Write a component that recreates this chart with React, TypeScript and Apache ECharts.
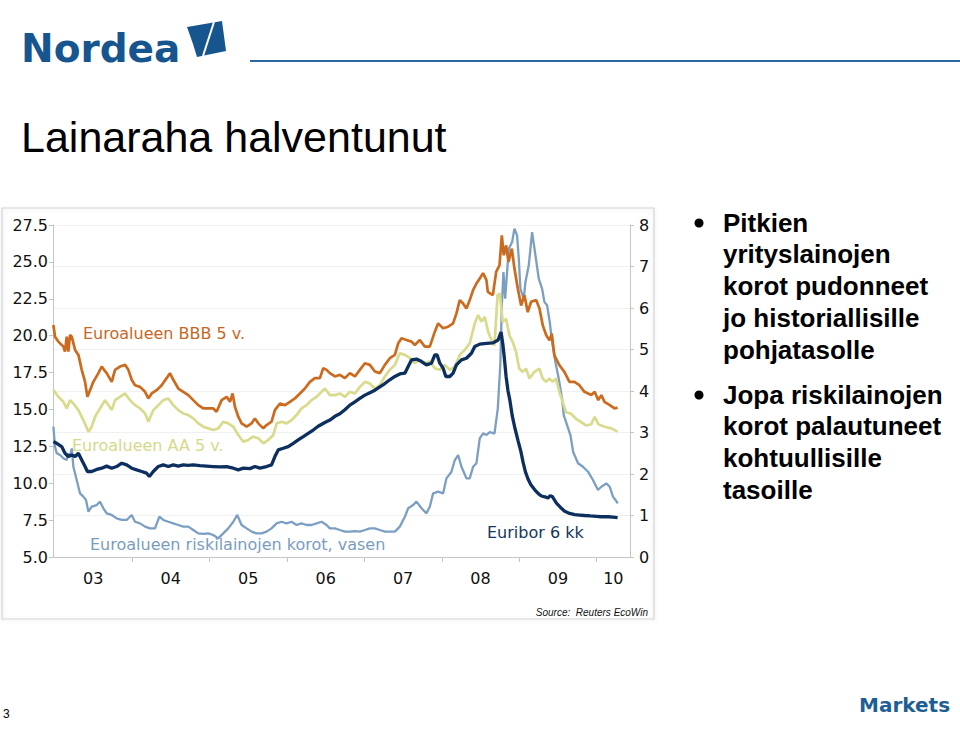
import React, { useEffect, useRef } from "react";
import * as echarts from "echarts";

// ---- data (decimal year, value) ----
const yearStarts = [2003, 2004, 2005, 2006, 2007, 2008, 2009, 2010];
const yearLabels = ["03", "04", "05", "06", "07", "08", "09", "10"];
const xMin = 2002.98;
const xMax = 2010.43;

// Euroalueen riskilainojen korot (left axis)
const highYield: number[][] = [
  [2002.985,13.83],[2003.006,12.48],[2003.028,12.03],[2003.071,11.91],[2003.114,11.69],[2003.157,11.57],[2003.178,12.03],[2003.2,11.8],[2003.222,12.36],[2003.243,11.12],[2003.286,10.22],[2003.329,9.31],[2003.372,9.09],[2003.406,8.86],[2003.437,8.07],[2003.48,8.41],[2003.544,8.52],[2003.587,8.75],[2003.63,8.3],[2003.673,7.96],[2003.738,7.85],[2003.802,7.62],[2003.867,7.51],[2003.931,7.51],[2003.996,7.85],[2004.039,7.39],[2004.103,7.28],[2004.168,7.06],[2004.232,6.94],[2004.297,6.94],[2004.353,7.73],[2004.404,7.51],[2004.469,7.39],[2004.533,7.28],[2004.598,7.17],[2004.662,7.06],[2004.727,7.06],[2004.791,6.83],[2004.856,6.6],[2004.92,6.56],[2004.985,6.6],[2005.049,6.49],[2005.114,6.26],[2005.178,6.6],[2005.243,6.94],[2005.308,7.39],[2005.359,7.85],[2005.415,7.17],[2005.48,6.94],[2005.544,6.72],[2005.609,6.6],[2005.673,6.6],[2005.737,6.72],[2005.802,6.94],[2005.867,7.28],[2005.931,7.39],[2005.996,7.28],[2006.06,7.39],[2006.125,7.17],[2006.189,7.28],[2006.254,7.17],[2006.318,7.17],[2006.383,7.28],[2006.447,7.39],[2006.512,7.17],[2006.555,6.94],[2006.62,6.94],[2006.684,6.83],[2006.749,6.72],[2006.813,6.72],[2006.878,6.75],[2006.942,6.72],[2007.007,6.83],[2007.071,6.94],[2007.136,6.94],[2007.2,6.83],[2007.265,6.72],[2007.329,6.72],[2007.394,6.72],[2007.458,7.06],[2007.523,7.73],[2007.566,8.3],[2007.63,8.52],[2007.673,8.75],[2007.738,8.3],[2007.802,7.96],[2007.845,8.41],[2007.888,9.31],[2007.953,9.43],[2008.017,9.31],[2008.06,10.33],[2008.125,10.78],[2008.168,11.57],[2008.211,11.91],[2008.254,11.12],[2008.318,10.33],[2008.361,10.33],[2008.404,11.12],[2008.447,11.35],[2008.49,13.04],[2008.533,13.38],[2008.576,13.27],[2008.62,13.47],[2008.68,13.36],[2008.723,15.05],[2008.757,18.2],[2008.775,22.06],[2008.796,24.31],[2008.818,22.5],[2008.843,24.31],[2008.865,25.89],[2008.908,26.35],[2008.938,27.25],[2008.972,26.8],[2008.994,25.22],[2009.015,23.18],[2009.058,22.5],[2009.08,23.64],[2009.123,24.77],[2009.166,27.02],[2009.209,25.45],[2009.252,23.86],[2009.295,23.18],[2009.325,22.28],[2009.359,22.06],[2009.394,20.93],[2009.424,19.57],[2009.467,18.2],[2009.51,17.08],[2009.553,15.73],[2009.575,14.6],[2009.618,13.93],[2009.661,13.25],[2009.696,12.12],[2009.759,11.35],[2009.823,11.12],[2009.888,10.78],[2009.952,10.22],[2010.017,9.54],[2010.06,9.76],[2010.125,9.99],[2010.168,9.76],[2010.21,9.09],[2010.273,8.64]
];

// Euroalueen AA 5 v. (right axis)
const aaYield: number[][] = [
  [2002.985,4.02],[2003.049,3.86],[2003.114,3.74],[2003.157,3.58],[2003.2,3.78],[2003.243,3.7],[2003.308,3.54],[2003.372,3.3],[2003.437,3.02],[2003.48,3.14],[2003.523,3.38],[2003.587,3.58],[2003.652,3.78],[2003.695,3.66],[2003.738,3.54],[2003.781,3.78],[2003.845,3.86],[2003.91,3.94],[2003.974,3.78],[2004.039,3.66],[2004.103,3.58],[2004.168,3.46],[2004.211,3.26],[2004.275,3.54],[2004.34,3.66],[2004.404,3.78],[2004.469,3.82],[2004.533,3.66],[2004.598,3.54],[2004.662,3.46],[2004.727,3.42],[2004.791,3.34],[2004.856,3.22],[2004.92,3.14],[2004.985,3.1],[2005.049,3.06],[2005.114,3.1],[2005.178,3.26],[2005.243,3.22],[2005.308,3.14],[2005.372,2.94],[2005.437,2.78],[2005.501,2.82],[2005.566,2.9],[2005.63,2.86],[2005.695,2.74],[2005.759,2.82],[2005.824,2.94],[2005.867,3.22],[2005.931,3.26],[2005.996,3.22],[2006.06,3.3],[2006.125,3.42],[2006.189,3.58],[2006.254,3.66],[2006.318,3.78],[2006.383,3.86],[2006.447,3.98],[2006.49,4.06],[2006.555,3.9],[2006.62,3.9],[2006.684,3.94],[2006.749,3.86],[2006.813,3.98],[2006.878,3.94],[2006.942,4.1],[2007.007,4.22],[2007.071,4.18],[2007.136,4.06],[2007.2,4.14],[2007.265,4.35],[2007.329,4.51],[2007.394,4.63],[2007.458,4.91],[2007.523,4.87],[2007.587,4.79],[2007.652,4.67],[2007.716,4.75],[2007.781,4.67],[2007.845,4.71],[2007.91,4.55],[2007.974,4.51],[2008.039,4.63],[2008.104,4.51],[2008.168,4.59],[2008.232,4.87],[2008.297,4.99],[2008.361,5.15],[2008.426,5.63],[2008.469,5.83],[2008.512,5.67],[2008.555,5.79],[2008.598,5.43],[2008.641,5.23],[2008.68,5.1],[2008.72,6.31],[2008.749,6.35],[2008.787,5.66],[2008.83,5.74],[2008.873,5.34],[2008.916,5.18],[2008.959,4.94],[2009.0,4.54],[2009.045,4.46],[2009.088,4.54],[2009.131,4.3],[2009.196,4.46],[2009.26,4.54],[2009.303,4.3],[2009.346,4.22],[2009.389,4.3],[2009.432,4.22],[2009.475,4.3],[2009.518,3.98],[2009.561,3.73],[2009.604,3.49],[2009.669,3.45],[2009.733,3.33],[2009.798,3.25],[2009.862,3.17],[2009.93,3.2],[2009.974,3.38],[2010.02,3.2],[2010.1,3.14],[2010.19,3.1],[2010.27,3.02]
];

// Euroalueen BBB 5 v. (right axis)
const bbbYield: number[][] = [
  [2002.985,5.59],[2003.006,5.31],[2003.049,5.19],[2003.114,5.07],[2003.135,4.95],[2003.157,5.31],[2003.178,4.95],[2003.2,5.35],[2003.222,5.31],[2003.265,4.99],[2003.308,4.87],[2003.351,4.51],[2003.394,4.22],[2003.424,3.86],[2003.458,4.02],[2003.501,4.22],[2003.566,4.43],[2003.609,4.59],[2003.639,4.51],[2003.673,4.43],[2003.738,4.22],[2003.781,4.51],[2003.845,4.59],[2003.91,4.63],[2003.953,4.51],[2003.996,4.27],[2004.039,4.14],[2004.103,4.1],[2004.168,3.98],[2004.211,3.82],[2004.254,3.94],[2004.318,4.02],[2004.383,4.14],[2004.447,4.31],[2004.49,4.43],[2004.533,4.27],[2004.598,4.06],[2004.662,3.98],[2004.727,3.9],[2004.791,3.78],[2004.856,3.66],[2004.92,3.58],[2004.985,3.58],[2005.049,3.58],[2005.092,3.5],[2005.157,3.78],[2005.222,3.86],[2005.265,3.74],[2005.299,3.94],[2005.329,3.62],[2005.372,3.38],[2005.415,3.22],[2005.48,3.14],[2005.544,3.22],[2005.587,3.34],[2005.63,3.22],[2005.695,3.1],[2005.737,3.18],[2005.802,3.26],[2005.845,3.54],[2005.91,3.7],[2005.974,3.66],[2006.039,3.74],[2006.103,3.82],[2006.168,3.94],[2006.232,4.06],[2006.297,4.22],[2006.361,4.31],[2006.426,4.31],[2006.469,4.55],[2006.512,4.51],[2006.555,4.43],[2006.62,4.35],[2006.684,4.39],[2006.749,4.31],[2006.813,4.43],[2006.878,4.35],[2006.942,4.51],[2007.007,4.67],[2007.071,4.63],[2007.136,4.47],[2007.2,4.43],[2007.265,4.63],[2007.329,4.79],[2007.394,4.87],[2007.437,5.15],[2007.48,5.27],[2007.544,5.23],[2007.609,5.19],[2007.652,5.11],[2007.716,5.23],[2007.781,5.07],[2007.845,5.07],[2007.91,5.43],[2007.953,5.63],[2008.017,5.51],[2008.082,5.55],[2008.146,5.63],[2008.189,5.87],[2008.232,6.19],[2008.275,6.11],[2008.318,5.99],[2008.361,6.19],[2008.404,6.43],[2008.447,6.59],[2008.49,6.71],[2008.533,6.84],[2008.576,6.67],[2008.594,6.39],[2008.659,6.31],[2008.702,6.87],[2008.745,7.03],[2008.775,7.75],[2008.8,7.27],[2008.831,7.51],[2008.861,7.11],[2008.904,7.43],[2008.938,6.95],[2008.981,6.47],[2009.024,6.06],[2009.067,6.31],[2009.11,5.9],[2009.153,6.15],[2009.218,6.19],[2009.261,5.99],[2009.304,5.58],[2009.347,5.35],[2009.39,5.22],[2009.42,5.38],[2009.454,4.86],[2009.519,4.62],[2009.583,4.46],[2009.648,4.22],[2009.712,4.22],[2009.777,4.14],[2009.841,3.98],[2009.89,3.94],[2009.93,3.9],[2009.974,3.98],[2010.02,3.78],[2010.06,3.9],[2010.1,3.74],[2010.17,3.66],[2010.23,3.58],[2010.27,3.6]
];

// Euribor 6 kk (right axis)
const euribor6m: number[][] = [
  [2002.985,2.78],[2003.028,2.74],[2003.092,2.66],[2003.135,2.5],[2003.178,2.42],[2003.222,2.46],[2003.265,2.42],[2003.308,2.5],[2003.351,2.34],[2003.394,2.18],[2003.424,2.06],[2003.48,2.06],[2003.544,2.11],[2003.609,2.14],[2003.673,2.19],[2003.738,2.14],[2003.802,2.18],[2003.867,2.26],[2003.931,2.22],[2003.996,2.14],[2004.06,2.1],[2004.125,2.06],[2004.189,2.02],[2004.224,1.94],[2004.275,2.06],[2004.34,2.18],[2004.404,2.22],[2004.469,2.18],[2004.533,2.22],[2004.598,2.19],[2004.662,2.22],[2004.727,2.21],[2004.791,2.22],[2004.877,2.2],[2004.963,2.19],[2005.049,2.18],[2005.135,2.17],[2005.222,2.18],[2005.308,2.14],[2005.372,2.1],[2005.437,2.14],[2005.523,2.13],[2005.587,2.18],[2005.652,2.14],[2005.737,2.18],[2005.802,2.22],[2005.845,2.42],[2005.888,2.58],[2005.953,2.62],[2006.017,2.66],[2006.082,2.74],[2006.146,2.82],[2006.211,2.9],[2006.275,2.98],[2006.34,3.06],[2006.404,3.15],[2006.49,3.24],[2006.555,3.3],[2006.62,3.39],[2006.684,3.45],[2006.749,3.55],[2006.813,3.66],[2006.878,3.74],[2006.942,3.82],[2007.007,3.9],[2007.071,3.96],[2007.136,4.02],[2007.2,4.1],[2007.265,4.18],[2007.329,4.27],[2007.394,4.35],[2007.458,4.41],[2007.523,4.43],[2007.566,4.59],[2007.609,4.75],[2007.673,4.77],[2007.738,4.71],[2007.802,4.63],[2007.867,4.67],[2007.91,4.87],[2007.94,4.87],[2007.974,4.67],[2008.017,4.55],[2008.052,4.35],[2008.104,4.35],[2008.146,4.43],[2008.189,4.63],[2008.254,4.75],[2008.318,4.79],[2008.383,4.91],[2008.426,5.07],[2008.49,5.13],[2008.576,5.15],[2008.662,5.16],[2008.727,5.23],[2008.765,5.42],[2008.79,5.1],[2008.81,4.75],[2008.83,4.35],[2008.855,4.0],[2008.877,3.8],[2008.91,3.4],[2008.942,3.12],[2008.985,2.8],[2009.02,2.55],[2009.05,2.28],[2009.08,2.05],[2009.113,1.88],[2009.15,1.74],[2009.2,1.62],[2009.25,1.52],[2009.286,1.47],[2009.33,1.45],[2009.37,1.42],[2009.4,1.48],[2009.43,1.45],[2009.48,1.3],[2009.53,1.2],[2009.587,1.1],[2009.65,1.05],[2009.716,1.02],[2009.78,1.01],[2009.845,1.0],[2009.92,0.99],[2010.0,0.98],[2010.06,0.97],[2010.15,0.97],[2010.21,0.96],[2010.27,0.95]
];

const bulletOne = ["Pitkien", "yrityslainojen", "korot pudonneet", "jo historiallisille", "pohjatasolle"];
const bulletTwo = ["Jopa riskilainojen", "korot palautuneet", "kohtuullisille", "tasoille"];

const C_BBB = "#cc6a1e";
const C_AA = "#d9db8c";
const C_HY = "#7b9fc3";
const C_EUR = "#0c2f5f";
const AXIS = "#c4c4c4";
const CHART_FONT = "DejaVu Sans";

export default function App() {
  const ref = useRef<HTMLDivElement>(null);

  useEffect(() => {
    if (!ref.current) return;
    const chart = echarts.init(ref.current, null, { renderer: "svg" });

    const labelPositions = yearStarts.map((y, i) =>
      i < yearStarts.length - 1 ? y + 0.5 : (y + xMax) / 2
    );
    const labelFor = (v: number) => {
      let best = 0;
      labelPositions.forEach((p, i) => {
        if (Math.abs(p - v) < Math.abs(labelPositions[best] - v)) best = i;
      });
      return yearLabels[best];
    };

    const bulletTexts: any[] = [];
    const lineGap = 31.8;
    bulletOne.forEach((t, i) =>
      bulletTexts.push({
        type: "text",
        x: 723,
        y: 222.5 + i * lineGap,
        style: { text: t, fill: "#000", font: 'bold 26px "Liberation Sans"', textVerticalAlign: "middle" },
      })
    );
    bulletTwo.forEach((t, i) =>
      bulletTexts.push({
        type: "text",
        x: 723,
        y: 394.5 + i * lineGap,
        style: { text: t, fill: "#000", font: 'bold 26px "Liberation Sans"', textVerticalAlign: "middle" },
      })
    );

    chart.setOption({
      animation: false,
      backgroundColor: "#ffffff",
      grid: { left: 53, right: 330, top: 225, bottom: 187, containLabel: false },
      xAxis: [
        {
          type: "value",
          min: xMin,
          max: xMax,
          axisLine: { show: true, lineStyle: { color: AXIS, width: 1 } },
          axisTick: { show: true, customValues: yearStarts.slice(1), length: 5, lineStyle: { color: AXIS } },
          axisLabel: {
            customValues: labelPositions,
            formatter: (v: number) => labelFor(v),
            fontSize: 16,
            fontFamily: CHART_FONT,
            color: "#111",
            margin: 13,
          },
          splitLine: { show: false },
        },
      ],
      yAxis: [
        {
          type: "value",
          position: "left",
          min: 5,
          max: 27.5,
          interval: 2.5,
          axisLine: { show: true, lineStyle: { color: AXIS } },
          axisTick: { show: true, length: 4, lineStyle: { color: AXIS } },
          axisLabel: {
            formatter: (v: number) => v.toFixed(1),
            fontSize: 16,
            fontFamily: CHART_FONT,
            color: "#111",
            margin: 5,
          },
          splitLine: { show: false },
        },
        {
          type: "value",
          position: "right",
          min: 0,
          max: 8,
          interval: 1,
          axisLine: { show: true, lineStyle: { color: AXIS } },
          axisTick: { show: true, length: 4, lineStyle: { color: AXIS } },
          axisLabel: { fontSize: 16, fontFamily: CHART_FONT, color: "#111", margin: 9 },
          splitLine: { show: true, lineStyle: { color: "#f0f0f0", width: 1 } },
        },
      ],
      series: [
        {
          type: "line",
          name: "Euroalueen riskilainojen korot, vasen",
          yAxisIndex: 0,
          data: highYield,
          showSymbol: false,
          silent: true,
          lineStyle: { color: C_HY, width: 2.3 },
          itemStyle: { color: C_HY },
        },
        {
          type: "line",
          name: "Euroalueen AA 5 v.",
          yAxisIndex: 1,
          data: aaYield,
          showSymbol: false,
          silent: true,
          lineStyle: { color: C_AA, width: 2.7 },
          itemStyle: { color: C_AA },
        },
        {
          type: "line",
          name: "Euroalueen BBB 5 v.",
          yAxisIndex: 1,
          data: bbbYield,
          showSymbol: false,
          silent: true,
          lineStyle: { color: C_BBB, width: 2.7 },
          itemStyle: { color: C_BBB },
        },
        {
          type: "line",
          name: "Euribor 6 kk",
          yAxisIndex: 1,
          data: euribor6m,
          showSymbol: false,
          silent: true,
          lineStyle: { color: C_EUR, width: 3.3 },
          itemStyle: { color: C_EUR },
        },
      ],
      graphic: [
        // chart frame
        {
          type: "rect",
          z: -10,
          shape: { x: 2, y: 208, width: 652, height: 411 },
          style: { fill: "rgba(255,255,255,0)", stroke: "#d3d3d3", lineWidth: 1.2, shadowBlur: 4, shadowColor: "rgba(0,0,0,0.12)", shadowOffsetY: 1 },
          silent: true,
        },
        // Nordea logo
        {
          type: "text",
          x: 21,
          y: 48,
          style: { text: "Nordea", fill: "#17558f", font: 'bold 39px "DejaVu Sans"', textVerticalAlign: "middle" },
        },
        {
          type: "polygon",
          shape: { points: [[187, 27], [222, 21], [226, 51], [197, 57], [193, 44]] },
          style: { fill: "#17558f" },
        },
        {
          type: "line",
          shape: { x1: 214, y1: 22, x2: 203, y2: 56 },
          style: { stroke: "#ffffff", lineWidth: 2 },
        },
        {
          type: "line",
          shape: { x1: 250, y1: 61, x2: 960, y2: 61 },
          style: { stroke: "#2b689e", lineWidth: 2 },
        },
        // title
        {
          type: "text",
          x: 21,
          y: 137,
          style: { text: "Lainaraha halventunut", fill: "#000", font: '43px "Liberation Sans"', textVerticalAlign: "middle" },
        },
        // series labels
        {
          type: "text",
          x: 83,
          y: 333,
          style: { text: "Euroalueen BBB 5 v.", fill: "#c8681f", font: '16px "DejaVu Sans"', textVerticalAlign: "middle" },
        },
        {
          type: "text",
          x: 72,
          y: 445,
          style: { text: "Euroalueen AA 5 v.", fill: "#d6d98a", font: '16px "DejaVu Sans"', textVerticalAlign: "middle" },
        },
        {
          type: "text",
          x: 90,
          y: 544,
          style: { text: "Euroalueen riskilainojen korot, vasen", fill: "#7a9cc0", font: '16px "DejaVu Sans"', textVerticalAlign: "middle" },
        },
        {
          type: "text",
          x: 487,
          y: 532,
          style: { text: "Euribor 6 kk", fill: "#15375f", font: '16px "DejaVu Sans"', textVerticalAlign: "middle" },
        },
        // source
        {
          type: "text",
          x: 648,
          y: 612,
          style: { text: "Source:  Reuters EcoWin", fill: "#111", font: 'italic 10px "Liberation Sans"', textAlign: "right", textVerticalAlign: "middle" },
        },
        // bullets
        { type: "circle", shape: { cx: 699, cy: 223, r: 4.5 }, style: { fill: "#000" } },
        { type: "circle", shape: { cx: 699, cy: 395, r: 4.5 }, style: { fill: "#000" } },
        ...bulletTexts,
        // Markets logo
        {
          type: "text",
          x: 859,
          y: 705,
          style: { text: "Markets", fill: "#1d5f94", font: 'bold 20px "DejaVu Sans"', textVerticalAlign: "middle" },
        },
        // page number
        {
          type: "text",
          x: 3,
          y: 714,
          style: { text: "3", fill: "#000", font: '12px "Liberation Sans"', textVerticalAlign: "middle" },
        },
      ],
    });

    return () => chart.dispose();
  }, []);

  return (
    <div
      ref={ref}
      style={{ position: "fixed", left: 0, top: 0, width: 960, height: 744, background: "#fff" }}
    />
  );
}
